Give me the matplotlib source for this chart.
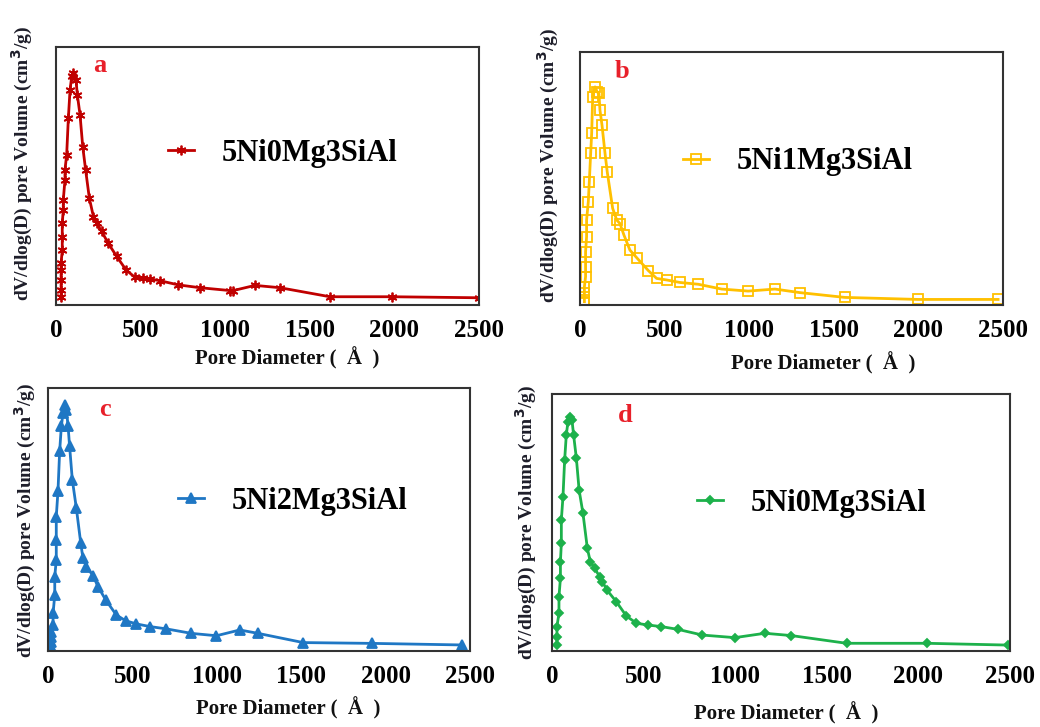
import matplotlib.pyplot as plt

W, H = 1040, 727

# pore diameter (A) and relative dV/dlog(D)
d_a = [30, 30, 30, 30, 30, 37, 37, 37, 43, 43, 53, 53, 63, 73, 83, 93, 102, 118, 126, 142,
       158, 175, 197, 221, 240, 270, 309, 359, 414, 467, 516, 556, 615, 723, 851, 1028,
       1048, 1176, 1324, 1619, 1984, 2500]
v_a = [0.032, 0.058, 0.097, 0.136, 0.162, 0.213, 0.265, 0.317, 0.369, 0.407, 0.485, 0.524,
       0.582, 0.724, 0.834, 0.886, 0.899, 0.873, 0.815, 0.737, 0.614, 0.524, 0.414, 0.343,
       0.317, 0.285, 0.239, 0.188, 0.136, 0.107, 0.103, 0.101, 0.094, 0.078, 0.067, 0.056,
       0.056, 0.076, 0.067, 0.032, 0.032, 0.028]

d_b = [26, 26, 26, 26, 33, 33, 33, 39, 39, 49, 55, 63, 69, 75, 89, 102, 112, 118, 130, 148,
       161, 193, 217, 236, 260, 295, 339, 404, 453, 512, 591, 699, 837, 994, 1152, 1299,
       1565, 1998, 2471]
v_b = [0.013, 0.020, 0.046, 0.072, 0.112, 0.151, 0.211, 0.270, 0.336, 0.408, 0.487, 0.599,
       0.678, 0.822, 0.862, 0.842, 0.836, 0.770, 0.711, 0.599, 0.526, 0.382, 0.336, 0.322,
       0.276, 0.217, 0.184, 0.136, 0.105, 0.099, 0.089, 0.082, 0.063, 0.055, 0.063, 0.049,
       0.030, 0.022, 0.022]

d_c = [20, 20, 20, 20, 30, 30, 40, 40, 49, 49, 49, 59, 69, 79, 89, 99, 109, 119, 128, 144,
       168, 194, 207, 227, 267, 296, 342, 405, 460, 524, 603, 702, 850, 998, 1136, 1245,
       1512, 1917, 2451]
v_c = [0.016, 0.036, 0.055, 0.074, 0.099, 0.143, 0.213, 0.283, 0.346, 0.423, 0.511, 0.607,
       0.759, 0.854, 0.905, 0.937, 0.918, 0.854, 0.778, 0.651, 0.543, 0.410, 0.353, 0.321,
       0.286, 0.245, 0.194, 0.137, 0.115, 0.103, 0.093, 0.084, 0.067, 0.058, 0.080, 0.067,
       0.032, 0.029, 0.023]

d_d = [27, 27, 27, 38, 38, 46, 46, 51, 51, 60, 69, 78, 87, 97, 109, 118, 133, 148, 169, 193,
       209, 233, 260, 275, 300, 351, 406, 461, 524, 597, 688, 821, 998, 1162, 1307, 1608,
       2045, 2491]
v_d = [0.023, 0.056, 0.095, 0.147, 0.211, 0.283, 0.348, 0.419, 0.510, 0.601, 0.743, 0.840,
       0.892, 0.912, 0.899, 0.840, 0.750, 0.626, 0.536, 0.399, 0.348, 0.322, 0.289, 0.270,
       0.237, 0.192, 0.136, 0.108, 0.101, 0.095, 0.084, 0.062, 0.052, 0.069, 0.060, 0.030,
       0.030, 0.023]

xticks = [0, 500, 1000, 1500, 2000, 2500]
serif = ['Liberation Serif', 'DejaVu Serif']
plt.rcParams['font.family'] = serif
plt.rcParams['font.weight'] = 'bold'

fig = plt.figure(figsize=(W / 100, H / 100), dpi=100)

# box (left, top, right, bottom) in pixels, plus text anchors in pixels
panels = [
    dict(d=d_a, v=v_a, name='5Ni0Mg3SiAl', color='#C00000', marker=(6, 2, 0), mfc='#C00000',
         box=(56, 47, 479, 305), tag='a', tagxy=(100, 65), leg=(168, 153),
         ylab=(22, 163), xlab=(287, 358)),
    dict(d=d_b, v=v_b, name='5Ni1Mg3SiAl', color='#FFC000', marker='s', mfc='none',
         box=(580, 52, 1003, 305), tag='b', tagxy=(622, 72), leg=(683, 162),
         ylab=(548, 165), xlab=(823, 363)),
    dict(d=d_c, v=v_c, name='5Ni2Mg3SiAl', color='#1F77C4', marker='^', mfc='#1F77C4',
         box=(48, 388, 470, 651), tag='c', tagxy=(105, 410), leg=(178, 501),
         ylab=(25, 520), xlab=(288, 708)),
    dict(d=d_d, v=v_d, name='5Ni0Mg3SiAl', color='#1DB14B', marker='D', mfc='#1DB14B',
         box=(552, 394, 1010, 651), tag='d', tagxy=(625, 415), leg=(697, 503),
         ylab=(526, 522), xlab=(786, 713)),
]

for p in panels:
    l, t, r, b = p['box']
    ax = fig.add_axes([l / W, 1 - b / H, (r - l) / W, (b - t) / H])
    ms = 7 if p['marker'] != 'D' else 4.5
    ax.plot(p['d'], p['v'], color=p['color'], lw=2, marker=p['marker'], ms=ms,
            mfc=p['mfc'], mec=p['color'], mew=1.3, label=p['name'])
    ax.set_xlim(0, 2500)
    ax.set_ylim(0, 1)
    ax.set_yticks([])
    ax.set_xticks(xticks)
    ax.tick_params(axis='x', length=0, pad=10, labelsize=18)
    for s in ax.spines.values():
        s.set_linewidth(1.5)
        s.set_color('#333333')

    lx, ly = p['leg']
    ax.legend(loc='center left', bbox_to_anchor=((lx - l) / (r - l), (b - ly) / (b - t)),
              frameon=False, handlelength=0.85, handletextpad=0.9, borderpad=0,
              borderaxespad=0, prop={'family': serif, 'weight': 'bold', 'size': 22})

    tx, ty = p['tagxy']
    fig.text(tx / W, 1 - ty / H, p['tag'], color='#E8202A', fontsize=19,
             fontweight='bold', ha='center', va='center')
    yx, yy = p['ylab']
    fig.text(yx / W, 1 - yy / H, 'dV/dlog(D) pore Volume (cm$^\\mathbf{3}$/g)', rotation=90,
             fontsize=14, fontweight='bold', color='#1E1E2A', ha='center', va='center')
    xx, xy = p['xlab']
    fig.text(xx / W, 1 - xy / H, 'Pore Diameter (  Å  )', fontsize=15,
             fontweight='bold', color='#111111', ha='center', va='center')

fig.savefig('out.png', dpi=100)
